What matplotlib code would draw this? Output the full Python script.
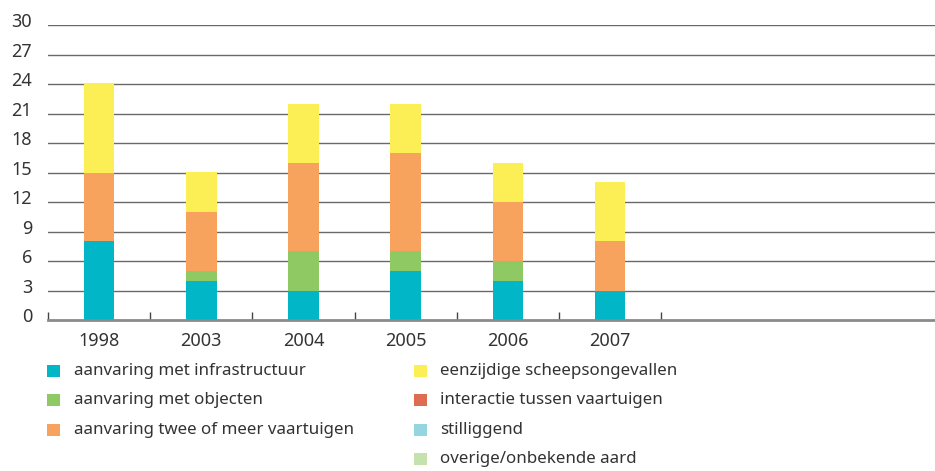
import matplotlib.pyplot as plt
import matplotlib.transforms as mtransforms
from matplotlib.patches import Rectangle
import numpy as np

plt.rcParams['font.family'] = ['Noto Sans', 'DejaVu Sans']

jaren = ["1998", "2003", "2004", "2005", "2006", "2007"]

# aantal ongevallen per soort
infrastructuur = [8, 4, 3, 5, 4, 3]
objecten = [0, 1, 4, 2, 2, 0]
twee_of_meer = [7, 6, 9, 10, 6, 5]
eenzijdig = [9, 4, 6, 5, 4, 6]
interactie = [0, 0, 0, 0, 0, 0]
stilliggend = [0, 0, 0, 0, 0, 0]
overige = [0, 0, 0, 0, 0, 0]

reeksen = [infrastructuur, objecten, twee_of_meer, eenzijdig, interactie, stilliggend, overige]
namen = ["aanvaring met infrastructuur", "aanvaring met objecten",
         "aanvaring twee of meer vaartuigen", "eenzijdige scheepsongevallen",
         "interactie tussen vaartuigen", "stilliggend", "overige/onbekende aard"]
kleuren = ["#00b6c7", "#8fc963", "#f7a35e", "#fcee55", "#e06b55", "#95d5df", "#c5e1ae"]

W, H = 935, 471
fig = plt.figure(figsize=(W / 100, H / 100), dpi=100)
ax = fig.add_axes([48 / W, (H - 320) / H, (W - 48) / W, 295 / H])

tekst = "#333333"
lijn = "#6a6a6a"

# rasterlijnen achter de staven
for y in range(3, 31, 3):
    ax.axhline(y, color=lijn, lw=1.0, zorder=0)

x = np.arange(len(jaren))
onder = np.zeros(len(jaren))
for waarden, kleur in zip(reeksen, kleuren):
    ax.bar(x, waarden, width=0.30, bottom=onder, color=kleur, zorder=2, linewidth=0)
    onder += np.array(waarden)

ax.set_xlim(-0.5, -0.5 + (W - 48) / 102.2)
ax.set_ylim(0, 30)

for kant in ["top", "right", "left"]:
    ax.spines[kant].set_visible(False)
ax.spines["bottom"].set_color("#8a8a8a")
ax.spines["bottom"].set_linewidth(2)
ax.spines["bottom"].set_zorder(3)

ax.set_yticks(range(0, 31, 3))
ax.tick_params(axis="y", length=0, pad=11.5, labelsize=13, labelcolor=tekst)
verschuif = mtransforms.ScaledTranslation(0, 3.5 / 72, fig.dpi_scale_trans)
for lab in ax.get_yticklabels():
    lab.set_transform(lab.get_transform() + verschuif)

ax.set_xticks(x)
ax.set_xticklabels(jaren)
ax.tick_params(axis="x", which="major", length=0, pad=8.5, labelsize=13, labelcolor=tekst)
ax.set_xticks(np.arange(-0.5, len(jaren)), minor=True)
ax.tick_params(axis="x", which="minor", direction="in", length=6, width=1, color="#444444")

# legenda in twee kolommen
kolommen = [(47, 74), (414, 440)]
rijen = [371, 400, 430, 459]
posities = [(0, 0), (0, 1), (0, 2), (1, 0), (1, 1), (1, 2), (1, 3)]
for naam, kleur, (k, r) in zip(namen, kleuren, posities):
    xs, xt = kolommen[k]
    yc = rijen[r]
    fig.add_artist(Rectangle((xs / W, (H - yc - 6) / H), 13 / W, 12 / H,
                             transform=fig.transFigure, color=kleur, lw=0))
    fig.text(xt / W, (H - yc) / H, naam, fontsize=12.2, color=tekst, va="center", ha="left")

fig.savefig("out.png", dpi=100)
